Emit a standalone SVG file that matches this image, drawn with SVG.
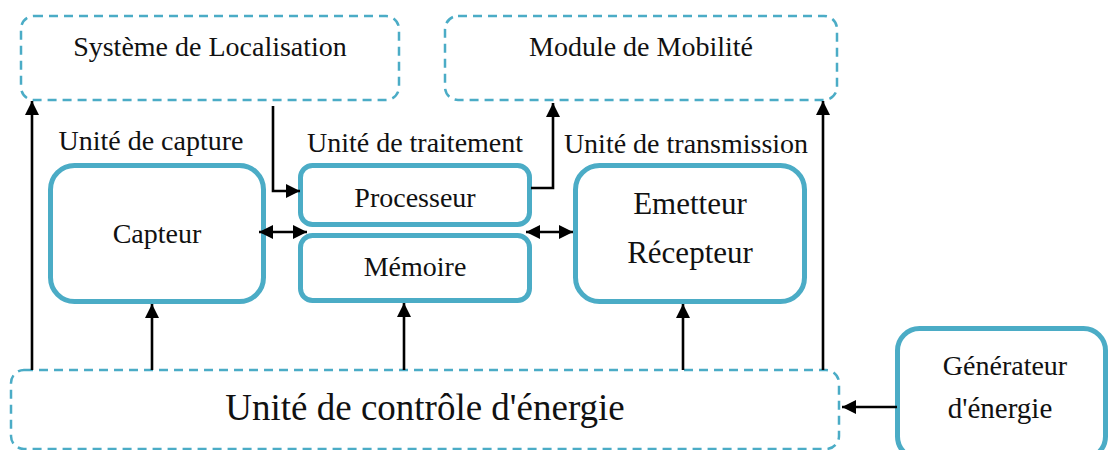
<svg xmlns="http://www.w3.org/2000/svg" width="1109" height="450" viewBox="0 0 1109 450">
  <style>
    .solid { fill: #fff; stroke: #4BACC6; stroke-width: 5; }
    .dash { fill: #fff; stroke: #4BACC6; stroke-width: 2.5; stroke-dasharray: 9 6; }
    .lbl { fill: #111; text-anchor: middle; }
    .conn { fill: none; stroke: #000; stroke-width: 2.6; }
  </style>
  <defs>
    <marker id="ah" viewBox="0 0 10 10" refX="10" refY="5" markerWidth="5.4" markerHeight="5.4" markerUnits="strokeWidth" orient="auto-start-reverse">
      <path d="M0,0 L10,5 L0,10 Z" fill="#000"/>
    </marker>
  </defs>
  <rect width="1109" height="450" fill="#fff"/>

  <g id="localisation">
    <rect class="dash" x="21" y="16" width="378" height="84" rx="13"/>
    <text class="lbl" x="210" y="56" font-size="28" font-family="Liberation Serif, serif">Système de Localisation</text>
  </g>
  <g id="mobilite">
    <rect class="dash" x="445" y="16" width="392" height="84" rx="13"/>
    <text class="lbl" x="641" y="56" font-size="28" font-family="Liberation Serif, serif">Module de Mobilité</text>
  </g>

  <g id="capture">
    <text class="lbl" x="151" y="150" font-size="28" font-family="Liberation Serif, serif">Unité de capture</text>
    <rect class="solid" x="50.5" y="165.5" width="213" height="136" rx="24"/>
    <text class="lbl" x="157" y="243" font-size="28" font-family="Liberation Serif, serif">Capteur</text>
  </g>

  <g id="traitement">
    <text class="lbl" x="415" y="152" font-size="28" font-family="Liberation Serif, serif">Unité de traitement</text>
  </g>
  <g id="processeur">
    <rect class="solid" x="300.5" y="165.5" width="229" height="59" rx="12"/>
    <text class="lbl" x="415" y="207" font-size="28" font-family="Liberation Serif, serif">Processeur</text>
  </g>
  <g id="memoire">
    <rect class="solid" x="300.5" y="235.5" width="229" height="65" rx="12"/>
    <text class="lbl" x="415" y="276" font-size="28" font-family="Liberation Serif, serif">Mémoire</text>
  </g>

  <g id="transmission">
    <text class="lbl" x="686" y="153" font-size="28" font-family="Liberation Serif, serif">Unité de transmission</text>
    <rect class="solid" x="575.5" y="165.5" width="229" height="136" rx="24"/>
    <text class="lbl" x="690" y="214" font-size="31" font-family="Liberation Serif, serif">Emetteur</text>
    <text class="lbl" x="690" y="263" font-size="31" font-family="Liberation Serif, serif">Récepteur</text>
  </g>

  <g id="energie">
    <rect class="dash" x="11" y="370" width="828" height="79" rx="13"/>
    <text class="lbl" x="425" y="420" font-size="37" font-family="Liberation Serif, serif">Unité de contrôle d'énergie</text>
  </g>

  <g id="generateur">
    <rect class="solid" x="897.5" y="328.5" width="208" height="130" rx="22"/>
    <text class="lbl" x="1005" y="375" font-size="28" font-family="Liberation Serif, serif">Générateur</text>
    <text class="lbl" x="1000" y="418" font-size="29" font-family="Liberation Serif, serif">d'énergie</text>
  </g>

  <g id="connectors">
    <!-- supply lines from the energy unit -->
    <line class="conn" x1="32" y1="370" x2="32" y2="101" marker-end="url(#ah)"/>
    <line class="conn" x1="823" y1="370" x2="823" y2="101" marker-end="url(#ah)"/>
    <line class="conn" x1="152" y1="370" x2="152" y2="304" marker-end="url(#ah)"/>
    <line class="conn" x1="404" y1="370" x2="404" y2="303" marker-end="url(#ah)"/>
    <line class="conn" x1="683" y1="370" x2="683" y2="304" marker-end="url(#ah)"/>
    <!-- localisation to processor -->
    <polyline class="conn" points="273,106 273,191 300,191" marker-end="url(#ah)"/>
    <!-- processor to mobility -->
    <polyline class="conn" points="531,188 553,188 553,103" marker-end="url(#ah)"/>
    <!-- data exchanges -->
    <line class="conn" x1="259" y1="232" x2="307" y2="232" marker-start="url(#ah)" marker-end="url(#ah)"/>
    <line class="conn" x1="526" y1="232" x2="573" y2="232" marker-start="url(#ah)" marker-end="url(#ah)"/>
    <!-- generator feeds the energy unit -->
    <line class="conn" x1="897" y1="407" x2="842" y2="407" marker-end="url(#ah)"/>
  </g>
</svg>
